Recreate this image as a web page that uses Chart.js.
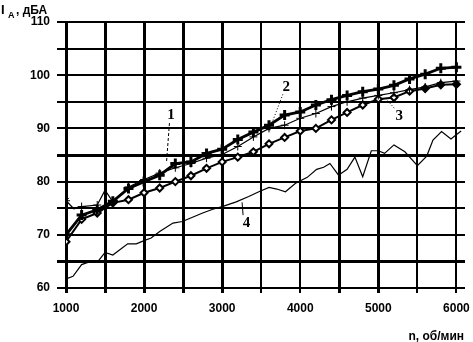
<!DOCTYPE html>
<html>
<head>
<meta charset="utf-8">
<script src="https://cdn.jsdelivr.net/npm/chart.js@4"></script>
<style>
  html, body { margin: 0; padding: 0; background: #fff; }
  canvas { display: block; }
</style>
</head>
<body>
<canvas id="chart" width="473" height="342"></canvas>
<script>
// rotation speed, rpm (markers every 200)
const rpm = [1000, 1200, 1400, 1600, 1800, 2000, 2200, 2400, 2600, 2800, 3000, 3200, 3400,
             3600, 3800, 4000, 4200, 4400, 4600, 4800, 5000, 5200, 5400, 5600, 5800, 6000]

// curve 2 - thick line, bold crosses
const curve2 = [70.0, 73.7, 74.7, 76.3, 78.7, 80.0, 81.2, 83.4, 83.7, 85.3, 86.1, 87.9, 89.3,
                90.6, 92.5, 93.1, 94.4, 95.4, 96.2, 96.9, 97.4, 98.1, 99.3, 100.2, 101.3, 101.5]

// curve 3 - diamonds
const curve3 = [68.7, 72.9, 74.1, 76.0, 76.6, 77.9, 78.8, 80.0, 81.1, 82.5, 83.7, 84.6, 85.6,
                87.1, 88.3, 89.5, 90.0, 91.6, 93.0, 94.4, 95.5, 95.8, 97.0, 97.5, 98.2, 98.3]

// curve 1 - thin line, thin crosses
const rpm1 = [1000, 1100, 1200, 1400, 1500, 1600, 1800, 2000, 2200, 2400, 2600, 2800, 3000, 3200,
              3400, 3600, 3800, 4000, 4200, 4400, 4600, 4800, 5000, 5200, 5400, 5600, 5800, 6000]
const curve1 = [76.4, 74.9, 75.3, 75.6, 78.4, 76.2, 79.0, 80.4, 81.6, 82.6, 83.4, 84.4, 85.1, 86.6,
                88.4, 90.0, 90.6, 91.9, 92.8, 94.1, 95.0, 95.7, 96.2, 96.7, 97.3, 97.8, 98.6, 98.9]

// curve 4 - thin line, no markers
const rpm4 = [1000, 1090, 1200, 1280, 1410, 1500, 1600, 1790, 1900, 2000,
              2090, 2200, 2370, 2490, 2620, 2750, 2880, 3000, 3180, 3340,
              3470, 3600, 3700, 3810, 3940, 4090, 4210, 4300, 4380, 4490,
              4600, 4700, 4800, 4910, 5000, 5080, 5200, 5340, 5500, 5620,
              5700, 5810, 5930, 6060]
const curve4 = [61.7, 62.2, 64.4, 64.8, 65.0, 66.7, 66.2, 68.3, 68.3, 68.9,
                69.4, 70.6, 72.2, 72.5, 73.3, 74.1, 74.8, 75.3, 76.2, 77.2,
                78.1, 78.9, 78.6, 78.1, 79.7, 80.8, 82.3, 82.7, 83.4, 81.2,
                82.3, 84.6, 80.9, 85.8, 85.8, 85.3, 86.9, 85.6, 83.0, 84.8,
                87.8, 89.4, 88.0, 89.5]

const xTicks = [1000, 1500, 2000, 2500, 3000, 3500, 4000, 4500, 5000, 5500, 6000]
const yTicks = [60, 65, 70, 75, 80, 85, 90, 95, 100, 105, 110]

// curve numbers and their leader lines, in data units
const tagText = ['1', '2', '3', '4']
const tagX = [2344, 3822, 5268, 3312]
const tagY = [92.5, 97.7, 92.3, 72.2]
const leadFromX = [2325, 3777, 5204, 3268]
const leadFromY = [91.0, 96.4, 93.8, 73.7]
const leadToX = [2287, 3637, 5115, 3255]
const leadToY = [83.6, 91.0, 95.3, 76.1]
const leadDash = [[3, 2], [1, 2], [1, 2], []]

const pts = (xs, ys) => xs.map((x, i) => ({ x: x, y: ys[i] }))

const font = 'Liberation Sans, Arial, sans-serif'

const labelsPlugin = {
    id: 'labels',
    afterDraw(chart) {
        const ctx = chart.ctx
        const xs = chart.scales.x
        const ys = chart.scales.y
        ctx.save()
        ctx.fillStyle = '#000'
        ctx.strokeStyle = '#000'

        // axis titles
        ctx.textBaseline = 'alphabetic'
        ctx.textAlign = 'left'
        ctx.font = 'bold 13px ' + font
        ctx.fillText('I', 1, 14)
        ctx.font = 'bold 9px ' + font
        ctx.fillText('A', 8, 18)
        ctx.font = 'bold 12px ' + font
        ctx.fillText(', дБА', 16, 14)

        ctx.textAlign = 'right'
        ctx.fillText('n, об/мин', 464, 340)

        // curve numbers
        ctx.font = 'bold 15px "Liberation Serif", serif'
        ctx.textAlign = 'center'
        ctx.textBaseline = 'middle'
        tagText.forEach((t, i) => {
            ctx.fillText(t, xs.getPixelForValue(tagX[i]), ys.getPixelForValue(tagY[i]))
            ctx.beginPath()
            ctx.lineWidth = 1
            ctx.setLineDash(leadDash[i])
            ctx.moveTo(xs.getPixelForValue(leadFromX[i]), ys.getPixelForValue(leadFromY[i]))
            ctx.lineTo(xs.getPixelForValue(leadToX[i]), ys.getPixelForValue(leadToY[i]))
            ctx.stroke()
        })
        ctx.restore()
    }
}

const thickX = [1000, 1500, 2000, 2500, 3000, 4500, 5000]
const thickY = [65, 85]

new Chart(document.getElementById('chart'), {
    type: 'line',
    data: {
        datasets: [
            {
                label: '2',
                data: pts(rpm, curve2),
                borderColor: '#000',
                borderWidth: 2.8,
                pointStyle: 'cross',
                pointRadius: 5,
                pointBorderWidth: 3,
                pointBorderColor: '#000'
            },
            {
                label: '1',
                data: pts(rpm1, curve1),
                borderColor: '#000',
                borderWidth: 1.2,
                pointStyle: (c) => c.dataIndex === 0 ? 'star' : 'cross',
                pointRadius: (c) => (c.raw && c.raw.x % 200 === 0) ? 4 : 0,
                pointBorderWidth: 1,
                pointBorderColor: '#000'
            },
            {
                label: '3',
                data: pts(rpm, curve3),
                borderColor: '#000',
                borderWidth: 2,
                pointStyle: 'rectRot',
                pointRadius: 3.5,
                pointBorderWidth: 2,
                pointBorderColor: '#000',
                pointBackgroundColor: (c) => (c.raw && (c.raw.x >= 5600 || c.raw.x === 1600)) ? '#000' : '#fff'
            },
            {
                label: '4',
                data: pts(rpm4, curve4),
                borderColor: '#000',
                borderWidth: 1.2,
                pointRadius: 0
            }
        ]
    },
    options: {
        responsive: false,
        animation: false,
        devicePixelRatio: 1,
        layout: {
            padding: { left: 0, top: 22, right: 6, bottom: 0 }
        },
        plugins: {
            legend: { display: false },
            tooltip: { enabled: false }
        },
        scales: {
            x: {
                type: 'linear',
                min: 1000,
                max: 6110,
                afterBuildTicks: (scale) => {
                    scale.ticks = xTicks.map(v => ({ value: v }))
                },
                afterFit: (scale) => {
                    scale.height = 54
                    scale.paddingLeft = 0
                    scale.paddingRight = 0
                },
                border: { display: false },
                grid: {
                    color: '#000',
                    lineWidth: (c) => thickX.includes(c.tick.value) ? 3 : 2,
                    tickLength: 5
                },
                ticks: {
                    color: '#000',
                    font: { family: font, size: 12, weight: 'bold' },
                    padding: 8,
                    maxRotation: 0,
                    callback: (v) => v % 1000 === 0 ? v : ''
                }
            },
            y: {
                min: 60,
                max: 110,
                afterBuildTicks: (scale) => {
                    scale.ticks = yTicks.map(v => ({ value: v }))
                },
                afterFit: (scale) => {
                    scale.width = 66
                    scale.paddingTop = 0
                    scale.paddingBottom = 0
                },
                border: { display: false },
                grid: {
                    color: '#000',
                    lineWidth: (c) => thickY.includes(c.tick.value) ? 3 : 2,
                    tickLength: 9
                },
                ticks: {
                    color: '#000',
                    font: { family: font, size: 12, weight: 'bold' },
                    padding: 7,
                    callback: (v) => v % 10 === 0 ? v : ''
                }
            }
        }
    },
    plugins: [labelsPlugin]
})
</script>
</body>
</html>
